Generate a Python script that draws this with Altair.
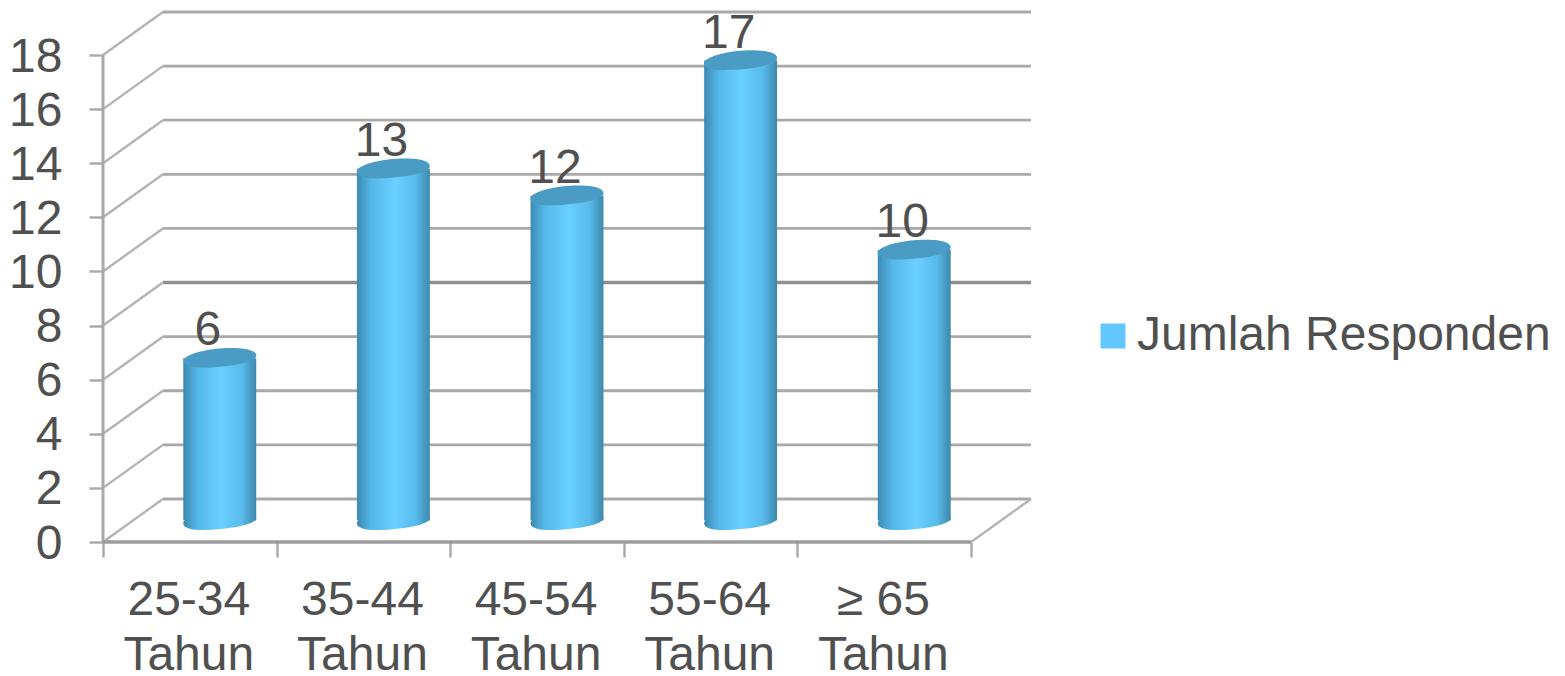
import altair as alt
import pandas as pd

# Survey respondents by age group
categories = ["25-34\nTahun", "35-44\nTahun", "45-54\nTahun", "55-64\nTahun", "≥ 65\nTahun"]
values = [6, 13, 12, 17, 10]
y_ticks = [0, 2, 4, 6, 8, 10, 12, 14, 16, 18]
x_ticks = [0, 1, 2, 3, 4, 5]
series_name = "Jumlah Responden"

# Oblique projection of the depth axis, in data units
DEPTH_X = 0.345
DEPTH_Y = 1.59
BAR_HALF = 0.21

FONT = "Liberation Sans"
TEXT = "#505050"
GRID = "#a9a9a9"
TOP_COLOR = "#4a9cc4"
LEGEND_COLOR = "#62c8ff"
FONT_SIZE = 48

x_scale = alt.Scale(domain=[0, 5 + DEPTH_X], nice=False, zero=False)
y_scale = alt.Scale(domain=[0, 18 + DEPTH_Y], nice=False, zero=False)

cylinder_fill = alt.Gradient(
    gradient="linear", x1=0, x2=1, y1=0, y2=0,
    stops=[
        alt.GradientStop(offset=0, color="#3d8ab2"),
        alt.GradientStop(offset=0.2, color="#54b8e8"),
        alt.GradientStop(offset=0.52, color="#6ad0ff"),
        alt.GradientStop(offset=0.8, color="#58bcec"),
        alt.GradientStop(offset=1, color="#3f88ad"),
    ],
)
# Cylinder cap: a slightly tilted, blunt-ended ellipse
ELLIPSE = (
    "M-1,0.08 C-1,-0.06 -0.6,-0.2 -0.1,-0.26 C0.3,-0.3 1,-0.3 1,-0.07 "
    "C1,0.08 0.5,0.22 -0.3,0.26 C-0.7,0.28 -1,0.22 -1,0.08 Z"
)

grid = pd.DataFrame({"v": y_ticks})
grid["back_y"] = grid["v"] + DEPTH_Y
grid["x0"] = DEPTH_X
grid["x1"] = 5 + DEPTH_X
grid["side_x"] = 0.0
grid["w"] = [3.4 if v == 8 else 2.8 for v in y_ticks]
grid["shade"] = ["#8f8f8f" if v == 8 else GRID for v in y_ticks]

bars = pd.DataFrame({"category": categories, "value": values, "series": series_name})
bars["pos"] = [i + 0.5 for i in range(len(categories))]
bars["center"] = bars["pos"] + DEPTH_X / 2
bars["left"] = bars["center"] - BAR_HALF
bars["right"] = bars["center"] + BAR_HALF
bars["floor"] = DEPTH_Y / 2
bars["top"] = bars["value"] + DEPTH_Y / 2
bars["zero"] = 0

x_enc = alt.X("x0:Q", scale=x_scale, title=None,
              axis=alt.Axis(values=x_ticks, labels=False, grid=False, domain=False,
                            tickColor=GRID, tickWidth=2.4, tickSize=15))
y_enc = alt.Y("back_y:Q", scale=y_scale, title=None,
              axis=alt.Axis(values=y_ticks, grid=False, domain=False,
                            tickColor=GRID, tickWidth=2.4, tickSize=14,
                            labelFont=FONT, labelFontSize=FONT_SIZE, labelColor=TEXT,
                            labelPadding=27, labelOffset=2))

back_lines = alt.Chart(grid).mark_rule().encode(
    x=x_enc, x2="x1:Q", y=y_enc,
    color=alt.Color("shade:N", scale=None),
    strokeWidth=alt.StrokeWidth("w:Q", scale=None),
)

side_lines = alt.Chart(grid).mark_rule(color="#b4b4b4", strokeWidth=2.4).encode(
    x=alt.X("side_x:Q", scale=x_scale),
    x2="x0:Q",
    y=alt.Y("v:Q", scale=y_scale),
    y2="back_y:Q",
)

floor_edge = alt.Chart(pd.DataFrame({"a": [5], "b": [5 + DEPTH_X], "c": [0], "d": [DEPTH_Y]})).mark_rule(
    color="#b4b4b4", strokeWidth=2.4
).encode(
    x=alt.X("a:Q", scale=x_scale), x2="b:Q",
    y=alt.Y("c:Q", scale=y_scale), y2="d:Q",
)

left_wall = alt.Chart(pd.DataFrame({"a": [0], "c": [0], "d": [18]})).mark_rule(
    color=GRID, strokeWidth=3
).encode(x=alt.X("a:Q", scale=x_scale), y=alt.Y("c:Q", scale=y_scale), y2="d:Q")

front_edge = alt.Chart(pd.DataFrame({"a": [0], "b": [5], "c": [0]})).mark_rule(
    color="#9c9c9c", strokeWidth=3.6
).encode(x=alt.X("a:Q", scale=x_scale), x2="b:Q", y=alt.Y("c:Q", scale=y_scale))

bar_bottom = alt.Chart(bars).mark_point(
    shape=ELLIPSE, fill=cylinder_fill, filled=True, opacity=1, strokeWidth=0, size=5330
).encode(x=alt.X("center:Q", scale=x_scale), y=alt.Y("floor:Q", scale=y_scale))

bar_body = alt.Chart(bars).mark_rect(fill=cylinder_fill).encode(
    x=alt.X("left:Q", scale=x_scale), x2="right:Q",
    y=alt.Y("floor:Q", scale=y_scale), y2="top:Q",
)

bar_top = alt.Chart(bars).mark_point(
    shape=ELLIPSE, fill=TOP_COLOR, filled=True, opacity=1, strokeWidth=0, size=5330
).encode(x=alt.X("center:Q", scale=x_scale), y=alt.Y("top:Q", scale=y_scale))

value_labels = alt.Chart(bars).mark_text(
    font=FONT, fontSize=FONT_SIZE, color=TEXT, baseline="middle", dx=-12, dy=-27
).encode(
    x=alt.X("center:Q", scale=x_scale),
    y=alt.Y("top:Q", scale=y_scale),
    text=alt.Text("value:Q"),
)

category_labels = alt.Chart(bars).mark_text(
    font=FONT, fontSize=FONT_SIZE, color=TEXT, baseline="top", lineBreak="\n", lineHeight=55,
    dy=35, dx=-1
).encode(
    x=alt.X("pos:Q", scale=x_scale),
    y=alt.Y("zero:Q", scale=y_scale),
    text="category:N",
)

legend_key = alt.Chart(bars).mark_point(size=0, filled=True, opacity=1).encode(
    x=alt.X("center:Q", scale=x_scale),
    y=alt.Y("floor:Q", scale=y_scale),
    color=alt.Color(
        "series:N",
        scale=alt.Scale(domain=[series_name], range=[LEGEND_COLOR]),
        legend=alt.Legend(
            title=None, orient="none", legendX=986, legendY=300, padding=0,
            symbolType="square", symbolSize=625, symbolOpacity=1, symbolStrokeWidth=0,
            labelFont=FONT, labelFontSize=FONT_SIZE, labelColor=TEXT, labelLimit=600,
            labelOffset=0,
        ),
    ),
)

chart = alt.layer(
    back_lines, side_lines, floor_edge, left_wall, front_edge,
    bar_bottom, bar_body, bar_top, value_labels, category_labels, legend_key,
).properties(
    width=928, height=530,
    autosize=alt.AutoSizeParams(type="none"),
    padding={"left": 103, "top": 12, "right": 534, "bottom": 134},
    background="white",
).configure_view(stroke=None)

chart.save("out.html", embed_options={"renderer": "svg", "actions": False})
